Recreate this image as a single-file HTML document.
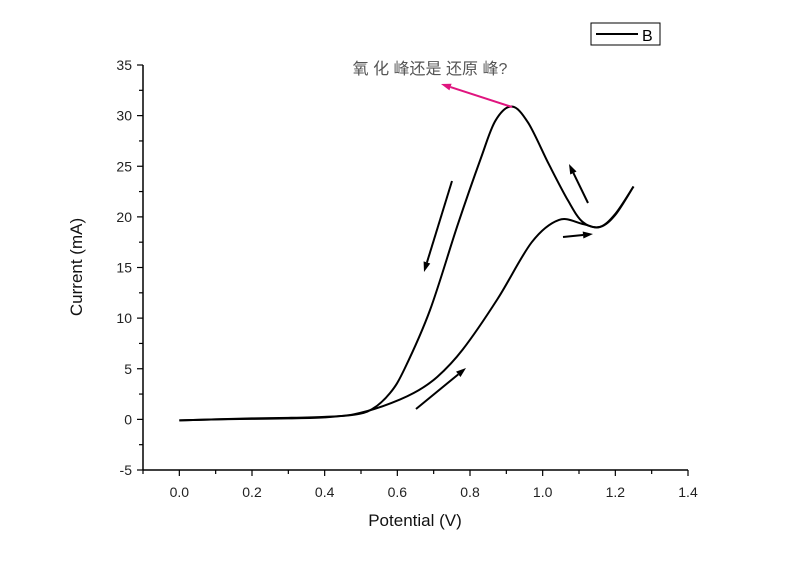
<!DOCTYPE html>
<html><head><meta charset="utf-8"><style>
html,body{margin:0;padding:0;background:#fff;width:800px;height:564px;overflow:hidden}
text{font-family:"Liberation Sans",Arial,sans-serif;}
</style></head><body>
<svg id="chart" width="800" height="564" xmlns="http://www.w3.org/2000/svg">
<g id="axes"></g>
<g id="series"></g>
<g id="annot"></g>
</svg>
<script>
const xTicks=[0.0,0.2,0.4,0.6,0.8,1.0,1.2,1.4];
const xTickLabels=["0.0","0.2","0.4","0.6","0.8","1.0","1.2","1.4"];
const yTicks=[-5,0,5,10,15,20,25,30,35];
const yTickLabels=["-5","0","5","10","15","20","25","30","35"];
const forwardX=[0.0,0.1,0.2,0.3,0.4,0.48,0.56,0.645,0.71,0.78,0.876,0.97,1.045,1.11,1.157,1.2,1.25];
const forwardY=[-0.1,0.0,0.05,0.1,0.2,0.5,1.3,2.6,4.2,6.9,11.9,17.5,19.7,19.3,19.0,20.3,23.0];
const reverseX=[1.25,1.2,1.157,1.11,1.07,1.017,0.96,0.915,0.87,0.83,0.766,0.69,0.62,0.58,0.53,0.48,0.4,0.3,0.2,0.1,0.0];
const reverseY=[23.0,20.2,19.0,19.5,21.6,25.2,29.3,30.9,29.5,25.8,19.2,10.8,5.0,2.6,1.0,0.45,0.25,0.15,0.1,0.0,-0.1];
const xMin=-0.1,xMax=1.4,yMin=-5,yMax=35;
const L=143,R=688,T=65,B=470;
function sx(v){return L+(v-xMin)/(xMax-xMin)*(R-L);}
function sy(v){return B-(v-yMin)/(yMax-yMin)*(B-T);}
const NS="http://www.w3.org/2000/svg";
function mk(tag,attrs,parent){const e=document.createElementNS(NS,tag);for(const k in attrs)e.setAttribute(k,attrs[k]);parent.appendChild(e);return e;}
const axes=document.getElementById('axes');
let e=mk('line',{x1:L,y1:T,x2:L,y2:B,stroke:'#000','stroke-width':1.5},axes);


e=mk('line',{x1:L,y1:B,x2:R,y2:B,stroke:'#000','stroke-width':1.5},axes);


for(let v=-0.1;v<=1.401;v+=0.1){const major=Math.abs(Math.round(v*10)%2)===0;
  e=mk('line',{x1:sx(v),y1:B,x2:sx(v),y2:B+(major?6:4),stroke:'#000','stroke-width':1.2},axes);
  
  }
xTicks.forEach((v,i)=>{e=mk('text',{x:sx(v),y:B+27,'text-anchor':'middle','font-size':14,fill:'#222'},axes);e.textContent=xTickLabels[i];
  
  });
for(let v=-5;v<=35;v+=2.5){const major=(v%5===0);
  e=mk('line',{x1:L,y1:sy(v),x2:L-(major?6:4),y2:sy(v),stroke:'#000','stroke-width':1.2},axes);
  
  }
yTicks.forEach((v,i)=>{e=mk('text',{x:L-11,y:sy(v)+5,'text-anchor':'end','font-size':14,fill:'#222'},axes);e.textContent=yTickLabels[i];
  
  });
e=mk('text',{x:415,y:526,'text-anchor':'middle','font-size':17,fill:'#111'},axes);e.textContent='Potential (V)';


e=mk('text',{x:0,y:0,'text-anchor':'middle','font-size':17,fill:'#111',transform:'translate(82,267) rotate(-90)'},axes);e.textContent='Current (mA)';


function smooth(xs,ys){const p=xs.map((x,i)=>[sx(x),sy(ys[i])]);let d='M'+p[0][0]+','+p[0][1];
  for(let i=0;i<p.length-1;i++){const p0=p[i-1]||p[i],p1=p[i],p2=p[i+1],p3=p[i+2]||p2;
    const c1=[p1[0]+(p2[0]-p0[0])/6,p1[1]+(p2[1]-p0[1])/6],c2=[p2[0]-(p3[0]-p1[0])/6,p2[1]-(p3[1]-p1[1])/6];
    d+=' C'+c1.join(',')+' '+c2.join(',')+' '+p2.join(',');}return d;}
const series=document.getElementById('series');
e=mk('path',{d:smooth(forwardX,forwardY),fill:'none',stroke:'#000','stroke-width':2},series);


e=mk('path',{d:smooth(reverseX,reverseY),fill:'none',stroke:'#000','stroke-width':2},series);


const an=document.getElementById('annot');
function arrow(x1,y1,x2,y2,col,name){const g=mk('g',{},an);
  
  
  const a=Math.atan2(y2-y1,x2-x1),h=10,w=3.5;
  const bx=x2-h*Math.cos(a),by=y2-h*Math.sin(a);
  mk('line',{x1:x1,y1:y1,x2:bx,y2:by,stroke:col,'stroke-width':2},g);
  mk('polygon',{points:`${x2},${y2} ${bx+w*Math.sin(a)},${by-w*Math.cos(a)} ${bx-w*Math.sin(a)},${by+w*Math.cos(a)}`,fill:col},g);}
arrow(452,181,424,272,'#000','arrow-reverse-down');
arrow(416,409,466,368,'#000','arrow-forward-up');
arrow(563,237,593,234,'#000','arrow-forward-right');
arrow(588,203,569,164,'#000','arrow-reverse-up');
arrow(512,107,441,84,'#e0157f','peak-annotation-arrow');
e=mk('text',{x:430,y:74,'text-anchor':'middle','font-size':16,fill:'#555','font-family':'"Liberation Serif","Noto Serif CJK SC",serif'},an);
e.textContent='氧 化 峰还是 还原 峰?';


const lg=mk('g',{},an);


mk('rect',{x:591,y:23,width:69,height:22,fill:'#fff',stroke:'#000','stroke-width':1},lg);
mk('line',{x1:596,y1:34,x2:638,y2:34,stroke:'#000','stroke-width':2},lg);
e=mk('text',{x:642,y:41,'font-size':16,fill:'#000'},lg);e.textContent='B';


</script>
</body></html>
